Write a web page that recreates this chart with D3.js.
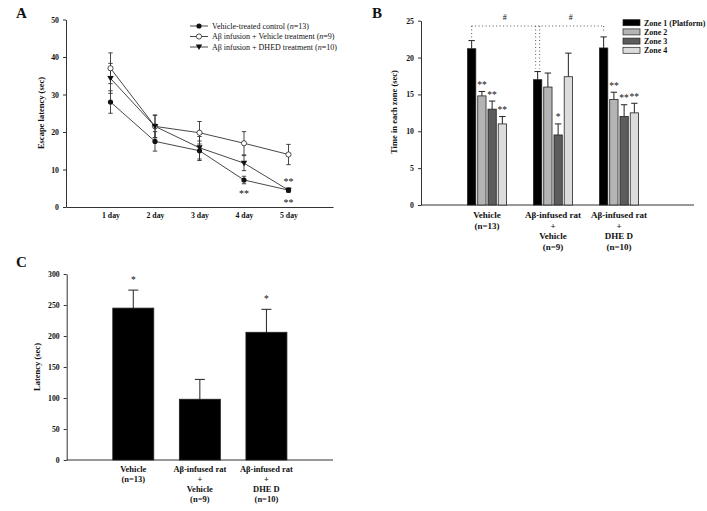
<!DOCTYPE html>
<html><head><meta charset="utf-8">
<script src="https://cdn.jsdelivr.net/npm/d3@7"></script>
<style>
body{margin:0;background:#fff}
svg{display:block}
text{font-family:"Liberation Serif","Times New Roman",serif;fill:#111}
</style></head>
<body>
<svg id="c" width="707" height="511"></svg>
<script>
// ---------- Data ----------
const days = ["1 day","2 day","3 day","4 day","5 day"];
const controlMean = [28.0, 17.5, 15.0, 7.2, 4.5];
const controlErr  = [3.0, 2.6, 2.6, 1.0, 0.5];
const abVehMean   = [37.0, 21.5, 19.8, 17.0, 14.0];
const abVehErr    = [4.1, 3.0, 3.0, 3.1, 2.7];
const abDhedMean  = [34.3, 21.5, 15.8, 11.7, 4.5];
const abDhedErr   = [4.0, 3.0, 3.0, 2.0, 0.5];
const seriesANames = ["Vehicle-treated control (", "A\u03b2 infusion + Vehicle treatment (", "A\u03b2 infusion + DHED treatment ("];
const seriesAN = ["=13)", "=9)", "=10)"];
const starsADay = [4, 5, 5];
const starsAVal = [4.0, 7.2, 1.6];
const yTicksA = [0,10,20,30,40,50];

const zones = ["Zone 1 (Platform)","Zone 2","Zone 3","Zone 4"];
const groupsB = ["Vehicle","Ab+Vehicle","Ab+DHED"];
const groupLabels = [["Vehicle","(n=13)"],["A\u03b2-infused rat","+","Vehicle","(n=9)"],["A\u03b2-infused rat","+","DHE D","(n=10)"]];
const zone1Mean = [21.2, 17.0, 21.3]; const zone1Err = [1.1, 1.1, 1.5];
const zone2Mean = [14.8, 16.0, 14.3]; const zone2Err = [0.6, 1.9, 1.0];
const zone3Mean = [13.0, 9.5, 12.0];  const zone3Err = [1.1, 1.5, 1.6];
const zone4Mean = [11.0, 17.4, 12.5]; const zone4Err = [1.0, 3.2, 1.3];
const starsB = [["","**","**","**"],["","","*",""],["","**","**","**"]];
const yTicksB = [0,5,10,15,20,25];

const latencyMean = [245, 98, 206];
const latencyErr  = [29, 32, 37];
const starsC = ["*","","*"];
const yTicksC = [0,50,100,150,200,250,300];

// ---------- Setup ----------
const svg = d3.select("#c");
const axisColor = "#333";
function styleAxis(g){
  g.selectAll("path,line").attr("stroke",axisColor).attr("stroke-width",1);
  g.selectAll("text").attr("font-size","7.8px").attr("font-weight","bold")
   .attr("font-family","'Liberation Serif',serif").attr("fill","#111");
}
function panelLabel(t,x,y){
  svg.append("text").attr("x",x).attr("y",y).attr("font-size","15px").attr("font-weight","bold").text(t);
}
function yTitle(t,x,y){
  svg.append("text").attr("transform",`translate(${x},${y}) rotate(-90)`).attr("text-anchor","middle")
    .attr("font-size","8.5px").attr("font-weight","bold").text(t);
}

// ---------- Panel A ----------
panelLabel("A",16,18);
const xA = d3.scaleLinear().domain([0,6]).range([66,333]);
const yA = d3.scaleLinear().domain([0,50]).range([207,19.5]);
svg.append("g").attr("transform","translate(66,0)")
  .call(d3.axisLeft(yA).tickValues(yTicksA).tickSize(3).tickSizeOuter(0).tickPadding(4)).call(styleAxis);
svg.append("g").attr("transform","translate(0,207)")
  .call(d3.axisBottom(xA).tickValues([1,2,3,4,5]).tickFormat((d)=>days[d-1]).tickSize(0).tickSizeOuter(0).tickPadding(5)).call(styleAxis);
yTitle("Escape latency (sec)",44,113);

const seriesA = [
  {m:controlMean,e:controlErr,type:"filled"},
  {m:abVehMean,e:abVehErr,type:"open"},
  {m:abDhedMean,e:abDhedErr,type:"tri"}
];
const lineA = d3.line().x((d,i)=>xA(i+1)).y(d=>yA(d));
seriesA.forEach(s=>{
  svg.append("path").attr("d",lineA(s.m)).attr("fill","none").attr("stroke","#333").attr("stroke-width",0.9);
});
function marker(g,type,x,y){
  if(type==="filled") g.append("circle").attr("cx",x).attr("cy",y).attr("r",2.6).attr("fill","#111");
  else if(type==="open") g.append("circle").attr("cx",x).attr("cy",y).attr("r",2.6).attr("fill","#fff").attr("stroke","#222").attr("stroke-width",0.8);
  else g.append("path").attr("d",`M${x-3.2},${y-2.4}L${x+3.2},${y-2.4}L${x},${y+3}Z`).attr("fill","#111");
}
seriesA.forEach(s=>{
  const g = svg.append("g");
  s.m.forEach((v,i)=>{
    const x = xA(i+1);
    g.append("line").attr("x1",x).attr("x2",x).attr("y1",yA(v-s.e[i])).attr("y2",yA(v+s.e[i])).attr("stroke","#333").attr("stroke-width",0.9);
    [v-s.e[i],v+s.e[i]].forEach(w=>g.append("line").attr("x1",x-2.2).attr("x2",x+2.2).attr("y1",yA(w)).attr("y2",yA(w)).attr("stroke","#333").attr("stroke-width",0.9));
  });
});
seriesA.forEach(s=>{
  const g = svg.append("g");
  s.m.forEach((v,i)=>marker(g,s.type,xA(i+1),yA(v)));
});
starsADay.forEach((d,i)=>{
  svg.append("text").attr("x",xA(d)).attr("y",yA(starsAVal[i])+5).attr("text-anchor","middle")
    .attr("font-size","10px").attr("fill","#444").text("**");
});
// legend A
const legA = svg.append("g");
seriesA.forEach((s,i)=>{
  const y = 26 + i*10.5;
  legA.append("line").attr("x1",190).attr("x2",208).attr("y1",y).attr("y2",y).attr("stroke","#333").attr("stroke-width",0.9);
  marker(legA,s.type,199,y);
  const t = legA.append("text").attr("x",212).attr("y",y+2.7).attr("font-size","8px");
  t.append("tspan").text(seriesANames[i]);
  t.append("tspan").attr("font-style","italic").text("n");
  t.append("tspan").text(seriesAN[i]);
});

// ---------- Panel B ----------
panelLabel("B",372,18);
const yB = d3.scaleLinear().domain([0,25]).range([205,20.7]);
const xB0 = d3.scalePoint().domain(groupsB).range([487,619]);
const xB1 = d3.scaleBand().domain(zones).range([-19.5,19.5]).paddingInner(0.19);
const zoneColors = ["#000000","#b4b4b4","#5c5c5c","#dcdcdc"];
const zoneMeans = [zone1Mean,zone2Mean,zone3Mean,zone4Mean];
const zoneErrs = [zone1Err,zone2Err,zone3Err,zone4Err];
svg.append("g").attr("transform","translate(421,0)")
  .call(d3.axisLeft(yB).tickValues(yTicksB).tickSize(3).tickSizeOuter(0).tickPadding(4)).call(styleAxis);
svg.append("line").attr("x1",421).attr("x2",694).attr("y1",205).attr("y2",205).attr("stroke",axisColor);
yTitle("Time in each zone (sec)",397,112);

groupsB.forEach((grp,gi)=>{
  zones.forEach((z,zi)=>{
    const v = zoneMeans[zi][gi], e = zoneErrs[zi][gi];
    const x = xB0(grp)+xB1(z), w = xB1.bandwidth(), cx = x+w/2;
    svg.append("line").attr("x1",cx).attr("x2",cx).attr("y1",yB(v)).attr("y2",yB(v+e)).attr("stroke","#222").attr("stroke-width",1);
    svg.append("line").attr("x1",cx-3.2).attr("x2",cx+3.2).attr("y1",yB(v+e)).attr("y2",yB(v+e)).attr("stroke","#222").attr("stroke-width",1);
    svg.append("rect").attr("x",x).attr("y",yB(v)).attr("width",w).attr("height",yB(0)-yB(v))
      .attr("fill",zoneColors[zi]).attr("stroke","#222").attr("stroke-width",0.8);
    if(starsB[gi][zi]) svg.append("text").attr("x",cx).attr("y",yB(v+e)-3.5).attr("text-anchor","middle")
      .attr("font-size","9.5px").attr("fill","#555").text(starsB[gi][zi]);
  });
  groupLabels[gi].forEach((l,li)=>{
    svg.append("text").attr("x",xB0(grp)).attr("y",218+li*10.5).attr("text-anchor","middle")
      .attr("font-size","9px").attr("font-weight","bold").text(l);
  });
});
// significance brackets (dotted)
const dotY = 26;
const z1x = gi => xB0(groupsB[gi])+xB1(zones[0])+xB1.bandwidth()/2;
const dotted = (x1,y1,x2,y2)=>svg.append("line").attr("x1",x1).attr("y1",y1).attr("x2",x2).attr("y2",y2)
  .attr("stroke","#444").attr("stroke-width",0.9).attr("stroke-dasharray","1,2.5");
dotted(z1x(0),dotY,z1x(2),dotY);
dotted(z1x(0),dotY,z1x(0),yB(zone1Mean[0]+zone1Err[0])-3);
dotted(z1x(1)-2,dotY,z1x(1)-2,yB(zone1Mean[1]+zone1Err[1])-3);
dotted(z1x(1)+2,dotY,z1x(1)+2,yB(zone1Mean[1]+zone1Err[1])-3);
dotted(z1x(2),dotY,z1x(2),yB(zone1Mean[2]+zone1Err[2])-6);
[(z1x(0)+z1x(1))/2,(z1x(1)+z1x(2))/2].forEach(x=>{
  svg.append("text").attr("x",x).attr("y",dotY-6).attr("text-anchor","middle").attr("font-size","8px").attr("fill","#555").text("#");
});
// legend B
zones.forEach((z,i)=>{
  const y = 22.7 + i*9.2;
  svg.append("rect").attr("x",623).attr("y",y-3).attr("width",17).attr("height",6)
    .attr("fill",zoneColors[i]).attr("stroke","#222").attr("stroke-width",0.7);
  svg.append("text").attr("x",644).attr("y",y+2.8).attr("font-size","8px").attr("font-weight","bold").text(z);
});

// ---------- Panel C ----------
panelLabel("C",16,267);
const yC = d3.scaleLinear().domain([0,300]).range([460,274]);
const xC = d3.scaleLinear().domain([0,4]).range([66.7,333]);
svg.append("g").attr("transform","translate(66.7,0)")
  .call(d3.axisLeft(yC).tickValues(yTicksC).tickSize(3).tickSizeOuter(0).tickPadding(4)).call(styleAxis);
svg.append("line").attr("x1",66.7).attr("x2",333).attr("y1",460).attr("y2",460).attr("stroke",axisColor);
yTitle("Latency (sec)",40,367);
const barW = 41;
latencyMean.forEach((v,i)=>{
  const cx = xC(i+1), e = latencyErr[i];
  svg.append("line").attr("x1",cx).attr("x2",cx).attr("y1",yC(v)).attr("y2",yC(v+e)).attr("stroke","#222");
  svg.append("line").attr("x1",cx-5).attr("x2",cx+5).attr("y1",yC(v+e)).attr("y2",yC(v+e)).attr("stroke","#222");
  svg.append("rect").attr("x",cx-barW/2).attr("y",yC(v)).attr("width",barW).attr("height",yC(0)-yC(v))
    .attr("fill","#000").attr("stroke","#222").attr("stroke-width",0.8);
  if(starsC[i]) svg.append("text").attr("x",cx).attr("y",yC(v+e)-7).attr("text-anchor","middle")
    .attr("font-size","9.5px").attr("fill","#555").text(starsC[i]);
  groupLabels[i].forEach((l,li)=>{
    svg.append("text").attr("x",cx).attr("y",472+li*10).attr("text-anchor","middle")
      .attr("font-size","8.5px").attr("font-weight","bold").text(l);
  });
});
</script>
</body></html>
